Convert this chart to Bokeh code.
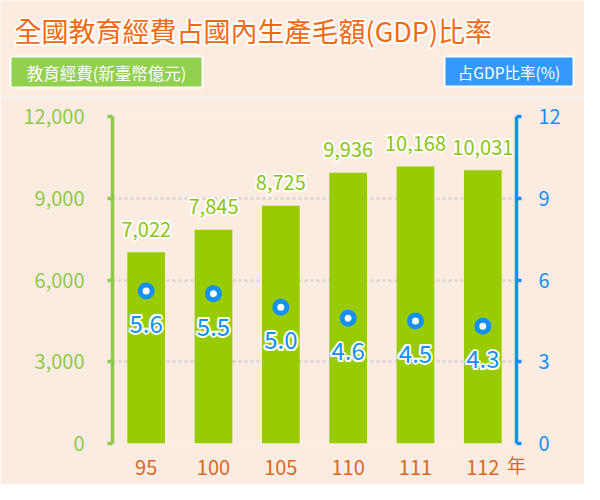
from bokeh.plotting import figure
from bokeh.models import (ColumnDataSource, Range1d, LinearAxis, NumeralTickFormatter,
                          FixedTicker)
from bokeh.core.properties import value
from bokeh.embed import file_html
from bokeh.resources import INLINE

years = ["95", "100", "105", "110", "111", "112"]
spending = [7022, 7845, 8725, 9936, 10168, 10031]
spending_labels = ["7,022", "7,845", "8,725", "9,936", "10,168", "10,031"]
gdp_pct = [5.6, 5.5, 5.0, 4.6, 4.5, 4.3]
gdp_labels = ["5.6", "5.5", "5.0", "4.6", "4.5", "4.3"]
left_ticks = [0, 3000, 6000, 9000, 12000]
right_ticks = [0, 3, 6, 9, 12]
title_text = "全國教育經費占國內生產毛額(GDP)比率"
left_legend = "教育經費(新臺幣億元)"
right_legend = "占GDP比率(%)"
year_unit = "年"

FONT = "Noto Sans CJK TC"
BG = "#FCEBE0"
BAR = "#99CC00"
GREEN = "#8DCB45"
BLUE = "#1590F5"
ORANGE = "#D9691A"
W = 584
HH = 97
MH = 484 - HH

offs = [(-2, 0), (2, 0), (0, -2), (0, 2), (-1.5, -1.5), (1.5, 1.5), (-1.5, 1.5), (1.5, -1.5)]

# ---------------- header (separate root, full-width frame) ----------------
h = figure(width=W, height=HH, x_range=Range1d(0, W), y_range=Range1d(HH, 0),
           x_axis_type=None, y_axis_type=None,
           output_backend="svg", toolbar_location=None,
           min_border=0, min_border_left=0, min_border_right=0,
           min_border_top=0, min_border_bottom=0)
h.grid.visible = False
h.background_fill_color = BG
h.border_fill_color = BG
h.outline_line_color = None

for dx, dy in offs:
    h.text(x=[14], y=[30], text=[title_text], x_offset=dx, y_offset=dy,
           text_align="left", text_baseline="middle", text_color="white",
           text_font=value(FONT), text_font_size="27px")
h.text(x=[14], y=[30], text=[title_text], text_align="left", text_baseline="middle",
       text_color="#F26A10", text_font=value(FONT), text_font_size="27px")

h.quad(left=[10], right=[202], top=[56], bottom=[87], fill_color="#92D050",
       line_color="white", line_width=2)
h.text(x=[106], y=[72], text=[left_legend], text_align="center", text_baseline="middle",
       text_color="white", text_font=value(FONT), text_font_size="16.5px")
h.quad(left=[444], right=[573], top=[56], bottom=[86], fill_color="#3399FF",
       line_color="white", line_width=2)
h.text(x=[508.5], y=[71], text=[right_legend], text_align="center", text_baseline="middle",
       text_color="white", text_font=value(FONT), text_font_size="15.5px")

# ---------------- main chart ----------------
src = ColumnDataSource(dict(x=years, y=spending, lab=spending_labels,
                            p=gdp_pct, plab=gdp_labels))

p = figure(width=W, height=MH, x_range=years, y_range=Range1d(0, 12000),
           output_backend="svg", toolbar_location=None,
           min_border_left=112, min_border_right=68, min_border_top=19,
           min_border_bottom=41)
p.background_fill_color = BG
p.border_fill_color = BG
p.outline_line_color = None
p.extra_y_ranges = {"pct": Range1d(0, 12)}

p.xgrid.grid_line_color = None
p.ygrid.ticker = FixedTicker(ticks=left_ticks)
p.ygrid.grid_line_color = "#D5D5D5"
p.ygrid.grid_line_width = 2.5
p.ygrid.grid_line_dash = "3 3"

ya = p.yaxis[0]
ya.ticker = FixedTicker(ticks=left_ticks)
ya.formatter = NumeralTickFormatter(format="0,0")
ya.axis_line_color = GREEN
ya.axis_line_width = 3.5
ya.major_tick_line_color = GREEN
ya.major_tick_line_width = 3.5
ya.major_tick_out = 5
ya.major_tick_in = 0
ya.minor_tick_line_color = None
ya.major_label_text_color = GREEN
ya.major_label_text_font = FONT
ya.major_label_text_font_size = "20px"
ya.major_label_standoff = 23

ra = LinearAxis(y_range_name="pct", ticker=FixedTicker(ticks=right_ticks))
ra.axis_line_color = BLUE
ra.axis_line_width = 3.5
ra.major_tick_line_color = BLUE
ra.major_tick_line_width = 3.5
ra.major_tick_out = 5
ra.major_tick_in = 0
ra.minor_tick_line_color = None
ra.major_label_text_color = BLUE
ra.major_label_text_font = FONT
ra.major_label_text_font_size = "20px"
ra.major_label_standoff = 17
p.add_layout(ra, "right")

xa = p.xaxis[0]
xa.axis_line_color = None
xa.major_tick_line_color = None
xa.minor_tick_line_color = None
xa.major_label_text_color = ORANGE
xa.major_label_text_font = FONT
xa.major_label_text_font_size = "20px"
xa.major_label_standoff = 10
xa.axis_label = year_unit
xa.axis_label_text_color = ORANGE
xa.axis_label_text_font = FONT
xa.axis_label_text_font_style = "normal"
xa.axis_label_text_font_size = "19px"
xa.axis_label_align = "end"
xa.axis_label_standoff = -27

p.vbar(x="x", top="y", width=0.56, source=src, fill_color=BAR, line_color=None)

for dx, dy in offs:
    p.text(x="x", y="y", text="lab", source=src, x_offset=dx, y_offset=-23 + dy,
           text_align="center", text_baseline="middle", text_color="white",
           text_font=value(FONT), text_font_size="20px")
p.text(x="x", y="y", text="lab", source=src, x_offset=0, y_offset=-23,
       text_align="center", text_baseline="middle", text_color="#8CC412",
       text_font=value(FONT), text_font_size="20px")

p.scatter(x="x", y="p", source=src, y_range_name="pct", size=12,
          fill_color="white", line_color=BLUE, line_width=5)
for dx, dy in offs:
    p.text(x="x", y="p", text="plab", source=src, y_range_name="pct",
           x_offset=dx, y_offset=33 + dy, text_align="center", text_baseline="middle",
           text_color="white", text_font=value(FONT), text_font_size="24px")
p.text(x="x", y="p", text="plab", source=src, y_range_name="pct",
       x_offset=0, y_offset=33, text_align="center", text_baseline="middle",
       text_color=BLUE, text_font=value(FONT), text_font_size="24px")

open("out.html", "w").write(file_html([h, p], INLINE))
